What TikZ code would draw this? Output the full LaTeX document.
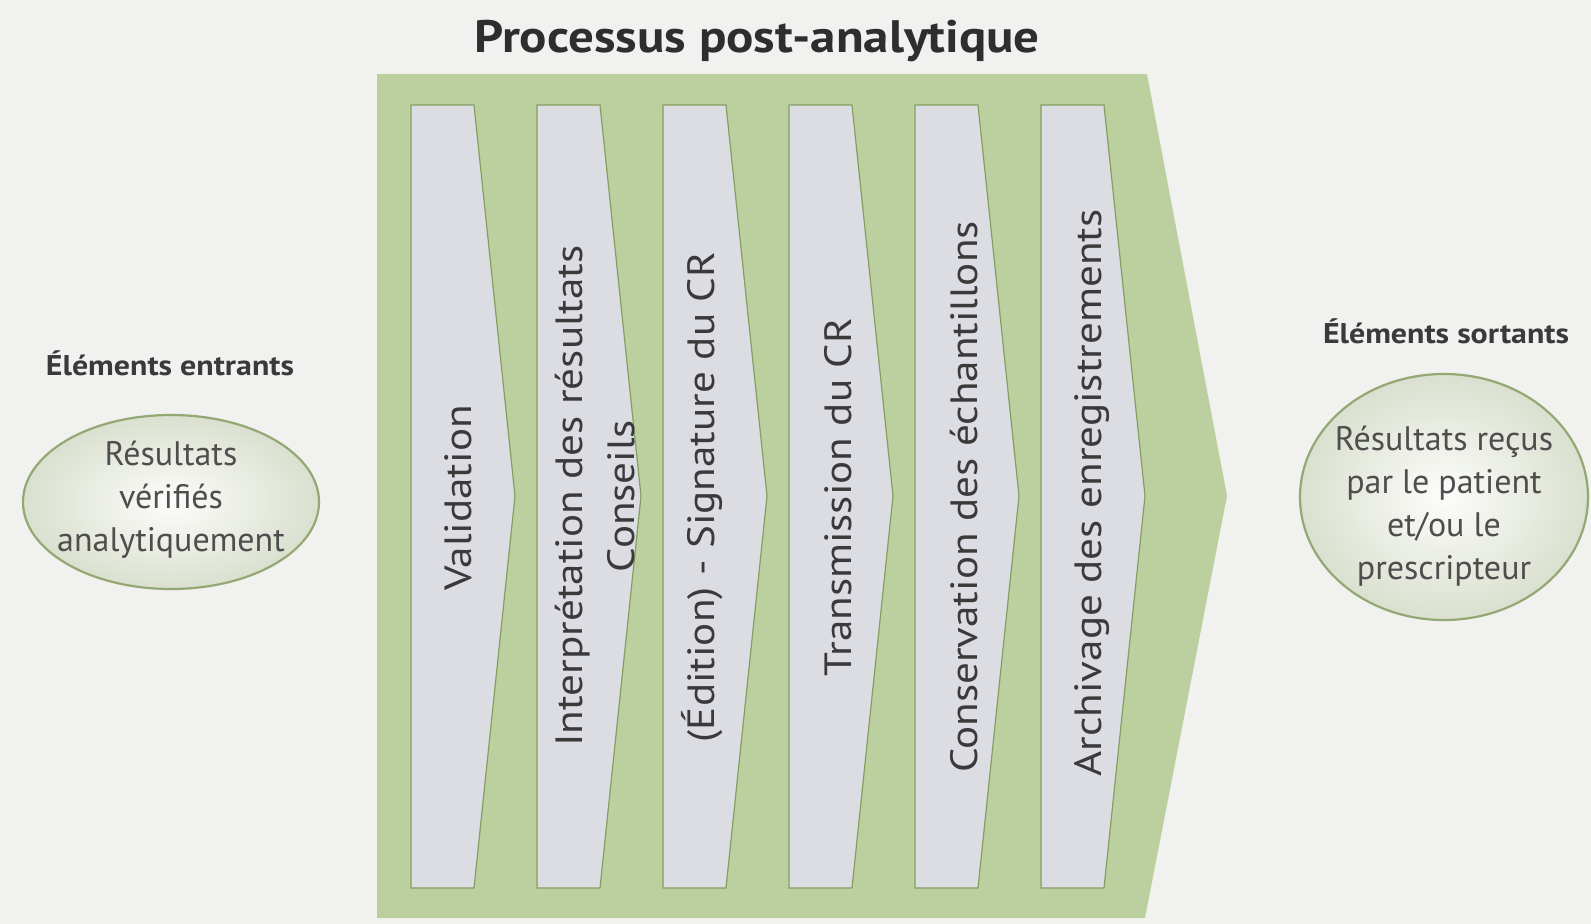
\documentclass[tikz,border=0pt]{standalone}
\usepackage{fontspec}
\setmainfont{PT Sans}
\newfontfamily\widesans[FakeStretch=1.135]{PT Sans}
\newfontfamily\widebold[FakeStretch=1.12]{PT Sans Bold}
\usetikzlibrary{shapes.geometric}
\definecolor{paper}{HTML}{F1F1EF}
\definecolor{leaf}{HTML}{BCCF9F}
\definecolor{leafline}{HTML}{83A060}
\definecolor{stripfill}{HTML}{DCDCE3}
\definecolor{ink}{HTML}{3A3A3A}
\definecolor{ovalfill}{HTML}{DAE0CF}
\definecolor{ovalline}{HTML}{93A872}
\tikzset{
  stage/.style={fill=stripfill, draw=leafline, line width=1.2pt, line join=miter},
  stagetext/.style={rotate=90, align=center, text=ink, inner sep=0pt,
    font=\widesans\fontsize{38}{52}\selectfont},
  oval/.style={ellipse, draw=ovalline, line width=2.2pt, inner sep=0pt,
    inner color=white!92!ovalfill, outer color=ovalfill},
  ovaltext/.style={align=center, text=ink!90!white, inner sep=0pt,
    font=\fontsize{34}{43}\selectfont},
  sidelabel/.style={text=ink, inner sep=0pt, font=\widebold\fontsize{28.5}{32}\selectfont},
  heading/.style={text=ink!80!black, inner sep=0pt, font=\widebold\fontsize{45.5}{50}\selectfont}
}
\begin{document}
\begin{tikzpicture}[x=1pt, y=-1pt]
  \useasboundingbox (0,0) rectangle (1591,924);
  \fill[paper] (0,0) rectangle (1591,924);

  % heading
  \node[heading] (title) at (757,41) {Processus post-analytique};

  % large green process arrow
  \fill[leaf] (377,74) -- (1147,74) -- (1227,496) -- (1145,918) -- (377,918) -- cycle;

  % six stage chevrons
  \foreach \L in {411,537,663,789,915,1041}{
    \draw[stage] (\L,105) -- (\L+63,105) -- (\L+104,496) -- (\L+63,888) -- (\L,888) -- cycle;
  }

  % stage labels (baseline placed near the right side of each chevron)
  \node[stagetext, anchor=base] (s1) at (471,498) {Validation};
  \node[stagetext] (s2) at (595,496) {Interprétation des résultats\\Conseils};
  \node[stagetext, anchor=base] (s3) at (714,497) {(Édition) - Signature du CR};
  \node[stagetext, anchor=base] (s4) at (851,497) {Transmission du CR};
  \node[stagetext, anchor=base] (s5) at (977,497) {Conservation des échantillons};
  \node[stagetext, anchor=base] (s6) at (1101,493) {Archivage des enregistrements};

  % incoming elements
  \node[sidelabel] (inlabel) at (170,363) {Éléments entrants};
  \node[oval, minimum width=296pt, minimum height=174pt] (inoval) at (171,502) {};
  \node[ovaltext] (intext) at (171,500) {Résultats\\vérifiés\\analytiquement};

  % outgoing elements
  \node[sidelabel] (outlabel) at (1446,331) {Éléments sortants};
  \node[oval, minimum width=288pt, minimum height=246pt] (outoval) at (1444,497) {};
  \node[ovaltext] (outtext) at (1444,506) {Résultats reçus\\par le patient\\et/ou le\\prescripteur};
\end{tikzpicture}
\end{document}
